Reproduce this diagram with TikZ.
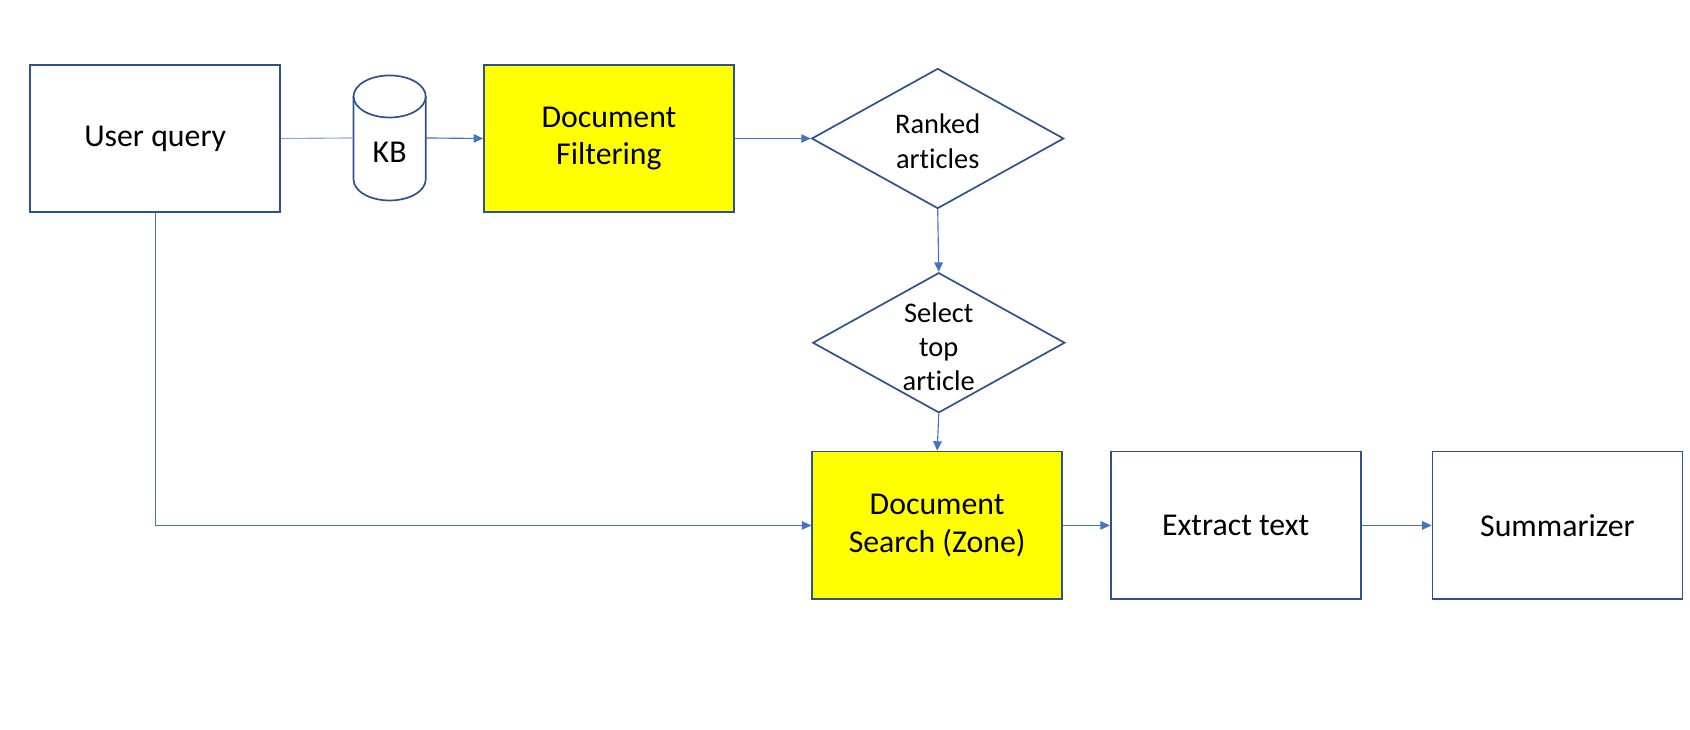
\documentclass[tikz,border=0pt]{standalone}
\usepackage{fontspec}
\setmainfont{Carlito}[Ligatures=NoCommon]
\usetikzlibrary{arrows.meta,shapes.geometric}
\definecolor{boxline}{HTML}{2F528F}
\definecolor{conn}{HTML}{4472C4}
\definecolor{hl}{HTML}{FFFF00}
\begin{document}
\begin{tikzpicture}[x=0.02cm,y=-0.02cm,
  box/.style={draw=boxline,line width=0.9pt,minimum width=4.64cm,minimum height=2.74cm,align=center,font=\fontsize{16.8}{20}\selectfont},
  hilite/.style={box,fill=hl},
  decision/.style={diamond,draw=boxline,line width=0.9pt,minimum width=4.68cm,minimum height=2.6cm,inner sep=0pt},
  dtext/.style={align=center,font=\fontsize{15}{18}\selectfont},
  arr/.style={draw=conn,line width=0.6pt,-{Triangle[length=5pt,width=4.5pt]}}]
\useasboundingbox (0,0) rectangle (1568,677);
\node[box] (query) at (144,128.5) {User query};
\node[minimum width=1.34cm,minimum height=2.32cm,inner sep=0pt] (kb) at (361.5,128) {};
\draw[boxline,line width=0.9pt] (328,89.5) -- (328,166.5) arc[start angle=180,end angle=360,x radius=0.67cm,y radius=0.39cm] -- (395,89.5);
\draw[boxline,line width=0.9pt] (361.5,89.5) ellipse[x radius=0.67cm,y radius=0.39cm];
\node[font=\fontsize{16.8}{20}\selectfont] at (361.5,141) {KB};
\node[hilite] (filter) at (565,128.5) {Document\\Filtering};
\node[decision] (ranked) at (870,128.5) {};
\node[dtext] at (870,131) {Ranked\\articles};
\node[decision] (select) at (871,318) {};
\node[dtext] at (871,322) {Select\\top\\article};
\node[hilite] (search) at (869.5,487.5) {Document\\Search (Zone)};
\node[box] (extract) at (1146.5,487.5) {Extract text};
\node[box] (summ) at (1445,487.5) {Summarizer};
\draw[conn!60,line width=0.6pt] (query.east) -- (kb.west);
\draw[arr] (kb.east) -- (filter.west);
\draw[arr] (filter.east) -- (ranked.west);
\draw[arr] (ranked.south) -- (select.north);
\draw[arr] (select.south) -- (search.north);
\draw[arr] (query.south) |- (search.west);
\draw[arr] (search.east) -- (extract.west);
\draw[arr] (extract.east) -- (summ.west);
\end{tikzpicture}
\end{document}
